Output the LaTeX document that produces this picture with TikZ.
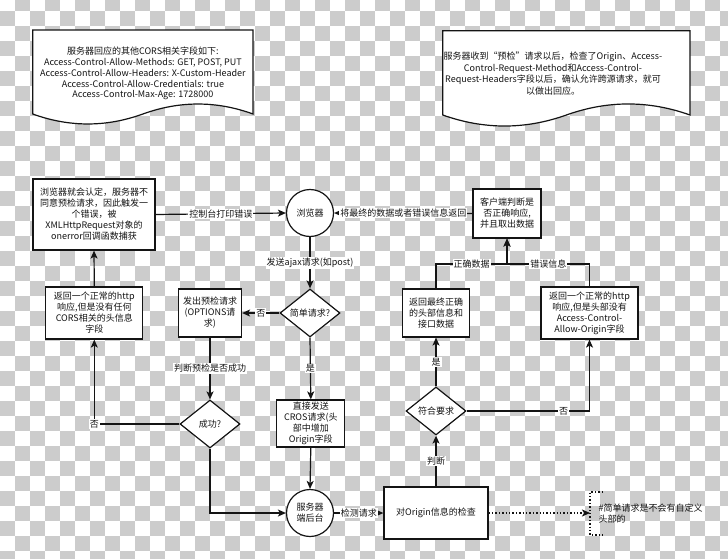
\documentclass[tikz,border=0pt]{standalone}
\usepackage{fontspec}
\setmainfont{Noto Sans CJK SC}
\usetikzlibrary{arrows.meta,shapes.geometric}
\definecolor{checkgray}{RGB}{204,204,204}
\definecolor{ink}{RGB}{20,20,20}
\begin{document}
\begin{tikzpicture}[x=1pt,y=-1pt,
  font=\fontsize{9}{11}\selectfont, text=ink,
  box/.style={draw=ink, fill=white, line width=1.2pt, align=center, inner sep=0pt},
  circ/.style={draw=ink, fill=white, line width=1.2pt, circle, minimum size=47pt, inner sep=0pt, align=center},
  dia/.style={draw=ink, fill=white, line width=1.2pt, diamond, aspect=1.25, minimum width=60pt, minimum height=48pt, inner sep=0pt},
  arr/.style={draw=ink, line width=1.2pt, -{Stealth[length=8pt,width=7pt,inset=2pt]}},
  plain/.style={draw=ink, line width=1.2pt},
  lab/.style={fill=white, inner sep=1pt, text=ink},
  dots/.style={draw=ink, line width=1.3pt, dash pattern=on 1.4pt off 2pt}
]
\useasboundingbox (0,0) rectangle (728,559);
% checkerboard background
\begin{scope}
\clip (0,0) rectangle (728,559);
\fill[white] (0,0) rectangle (728,559);
\foreach \r in {-1,...,36}{
  \foreach \c in {0,...,48}{
    \pgfmathtruncatemacro\s{mod(\c+\r+2,2)}
    \ifnum\s=0
      \fill[checkgray] (15*\c,11+15*\r) rectangle (15*\c+15,26+15*\r);
    \fi
  }
}
\end{scope}

% document shape 1
\draw[plain, fill=white] (32.7,30) -- (253,30) -- (253,114)
  .. controls (216.3,100.7) and (179.6,100.7) .. (142.9,114)
  .. controls (106.2,127.3) and (69.4,127.3) .. (32.7,114) -- cycle;
\node[align=center, font=\fontsize{9}{10.7}\selectfont] (doc1) at (142.9,73.7)
  {服务器回应的其他CORS相关字段如下:\\Access-Control-Allow-Methods: GET, POST, PUT\\Access-Control-Allow-Headers: X-Custom-Header\\Access-Control-Allow-Credentials: true\\Access-Control-Max-Age: 1728000};

% document shape 2
\draw[plain, fill=white] (442.7,30.7) -- (690,30.7) -- (690,115)
  .. controls (648.8,100.3) and (607.6,100.3) .. (566.4,115)
  .. controls (525.2,129.7) and (484,129.7) .. (442.7,115) -- cycle;
\node[align=center, font=\fontsize{9}{11.7}\selectfont] (doc2) at (553,73.5)
  {服务器收到“预检”请求以后，检查了Origin、Access-\\Control-Request-Method和Access-Control-\\Request-Headers字段以后，确认允许跨源请求，就可\\以做出回应。};

% nodes
\node[box, minimum width=122pt, minimum height=71pt] (A) at (94,214.5)
  {浏览器就会认定，服务器不\\同意预检请求，因此触发一\\个错误，被\\XMLHttpRequest对象的\\onerror回调函数捕获};
\node[circ] (browser) at (310,213) {浏览器};
\node[box, minimum width=68pt, minimum height=49pt] (C) at (507,213.5)
  {客户端判断是\\否正确响应,\\并且取出数据};
\node[box, minimum width=97pt, minimum height=52pt] (B) at (94.3,313)
  {返回一个正常的http\\响应,但是没有任何\\CORS相关的头信息\\字段};
\node[box, minimum width=63pt, minimum height=48pt] (P) at (210,313)
  {发出预检请求\\(OPTIONS请\\求)};
\node[dia] (simple) at (310,313) {简单请求?};
\node[box, minimum width=67pt, minimum height=48pt] (E) at (436,313)
  {返回最终正确\\的头部信息和\\接口数据};
\node[box, minimum width=97pt, minimum height=52pt] (F) at (589.5,313)
  {返回一个正常的http\\响应,但是头部没有\\Access-Control-\\Allow-Origin字段};
\node[dia] (success) at (210,424) {成功?};
\node[box, minimum width=68pt, minimum height=47pt] (D) at (310.8,423.5)
  {直接发送\\CROS请求(头\\部中增加\\Origin字段};
\node[dia] (fit) at (436,411) {符合要求};
\node[circ] (server) at (310,513) {服务器\\端后台};
\node[box, minimum width=104pt, minimum height=52pt] (G) at (436,513) {对Origin信息的检查};

% annotation
\coordinate (nt) at (603,492);
\coordinate (ntl) at (590,492);
\coordinate (nbl) at (590,535);
\coordinate (nb) at (603,535);
\coordinate (nin) at (590,513);
\draw[dots] (nt) -- (ntl) -- (nbl) -- (nb);
\node[anchor=west, align=left] (note) at (595,513.5) {\#简单请求是不会有自定义\\头部的};

% connectors
\coordinate (jn) at (507,264);
\draw[arr] (A.east) -- (browser.west) node[lab, midway] {控制台打印错误};
\draw[arr] (C.west) -- (browser.east) node[lab, midway] {将最终的数据或者错误信息返回};
\draw[arr] (browser.south) -- (simple.north) node[lab, midway] {发送ajax请求(如post)};
\draw[arr] (simple.west) -- (P.east) node[lab, midway] {否};
\draw[arr] (simple.south) -- (D.north) node[lab, midway] {是};
\draw[arr] (P.south) -- (success.north) node[lab, midway] {判断预检是否成功};
\draw[arr] (success.west) -| (B.south) node[lab, pos=0.5] {否};
\draw[arr] (B.north) -- (A.south);
\draw[arr] (success.south) |- (server.west);
\draw[arr] (D.south) -- (server.north);
\draw[arr] (server.east) -- (G.west) node[lab, midway] {检测请求};
\draw[arr] (G.north) -- (fit.south) node[lab, midway] {判断};
\draw[arr] (fit.north) -- (E.south) node[lab, midway] {是};
\draw[arr] (fit.east) -- (fit.east -| F.south) node[lab, pos=0.79] {否} -- (F.south);
\draw[arr] (E.north) |- (jn) node[lab, pos=0.75] {正确数据} -- (C.south);
\draw[arr] (F.north) |- (jn) node[lab, pos=0.75] {错误信息} -- (C.south);
\draw[dots, -{Stealth[length=8pt,width=7pt,inset=2pt]}] (G.east) -- (nin);
\end{tikzpicture}
\end{document}
